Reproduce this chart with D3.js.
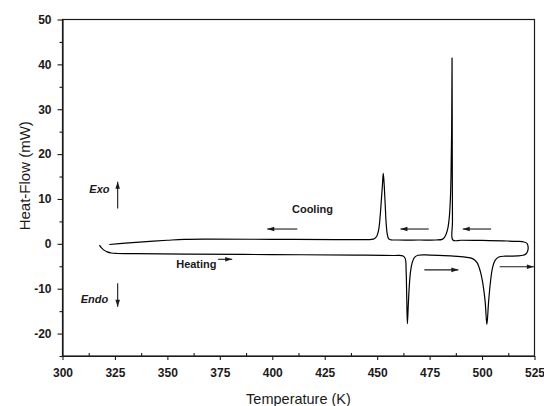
<!DOCTYPE html>
<html>
<head>
<meta charset="utf-8">
<script src="https://cdn.jsdelivr.net/npm/d3@7"></script>
<style>
  body { margin: 0; background: #fff; }
  svg { display: block; font-family: "Liberation Sans", Arial, sans-serif; }
</style>
</head>
<body>
<svg id="chart" width="544" height="406"></svg>
<script>
// tick values
const xTicks = [300, 325, 350, 375, 400, 425, 450, 475, 500, 525];
const xMinor = [312.5, 337.5, 362.5, 387.5, 412.5, 437.5, 462.5, 487.5, 512.5];
const yTicks = [-20, -10, 0, 10, 20, 30, 40, 50];
const yMinor = [-25, -15, -5, 5, 15, 25, 35, 45];

// heating run [T (K), heat flow (mW)], left to right, ending in the turn-round loop
const heating = [
  [317.6, -0.3], [318.6, -0.9], [319.8, -1.4], [321.3, -1.8], [323.3, -2.05],
  [326, -2.15], [335, -2.2], [360, -2.3], [400, -2.4], [440, -2.5],
  [458, -2.6], [462.4, -2.7], [463.4, -3.3], [463.8, -6], [464.1, -12],
  [464.4, -17.8], [464.8, -14], [465.3, -9.5], [465.9, -6.2], [466.7, -4.2],
  [467.8, -3.0], [469.5, -2.55], [475, -2.5], [485, -2.7], [492, -2.95],
  [495.5, -3.3], [497.6, -4.2], [499.2, -6.2], [500.5, -9.2], [501.5, -13],
  [502.3, -18.0], [503.1, -13], [504, -8.5], [505, -5.3], [506.2, -3.7],
  [508, -2.95], [511, -2.75], [517, -2.7], [519.6, -2.55], [521, -2.2],
  [521.8, -1.5], [521.9, -0.5], [521.4, 0.1], [520, 0.4], [517, 0.55]
];

// cooling run, right to left
const cooling = [
  [517, 0.55], [510, 0.65], [500, 0.75], [490, 0.8], [486.1, 0.85],
  [485.9, 5], [485.8, 20], [485.7, 41.4], [485.5, 25], [485.2, 15],
  [484.9, 10], [484.4, 6], [483.7, 3.5], [482.9, 2.2], [482, 1.4],
  [481, 1.0], [478, 0.85], [470, 0.85], [460, 0.85], [456.5, 0.9],
  [455.5, 1.1], [454.8, 2.2], [454.3, 4.5], [453.8, 9], [453.3, 13.5],
  [452.9, 15.7], [452.5, 13], [452, 9.8], [451.4, 6], [450.7, 3.1],
  [449.8, 1.7], [448.6, 1.15], [447.3, 1.0], [430, 0.95], [400, 1.0],
  [370, 1.05], [358, 1.0], [350, 0.8], [340, 0.5], [330, 0.15], [322.3, -0.15]
];

// direction arrows: [T from, T to, heat flow, pointing]
const hArrows = [
  [397.6, 411.9, 3.3, 'left'], [461.1, 474.6, 3.3, 'left'], [490.8, 504.3, 3.3, 'left'],
  [374.2, 380.9, -3.45, 'right'], [472.5, 488.7, -5.8, 'right'], [508.4, 524.7, -5.1, 'right']
];
// exo / endo arrows: [T, heat flow from, heat flow to]
const vArrows = [[326.3, 7.9, 13.85], [326.3, -8.8, -14.0]];
const labels = [
  {text: 'Cooling', T: 409.4, hf: 6.9, italic: false},
  {text: 'Heating', T: 354.2, hf: -5.4, italic: false},
  {text: 'Exo', T: 312.8, hf: 11.3, italic: true},
  {text: 'Endo', T: 308.7, hf: -13.2, italic: true}
];

const svg = d3.select('#chart');
const margin = {top: 19.5, right: 9.5, bottom: 50, left: 62.5};
const width = 544, height = 406;

const x = d3.scaleLinear().domain([300, 525]).range([margin.left, width - margin.right]);
const y = d3.scaleLinear().domain([-25, 50]).range([height - margin.bottom, margin.top]);

const ink = '#1a1a1a';

// frame
svg.append('rect')
  .attr('x', x(300)).attr('y', y(50))
  .attr('width', x(525) - x(300)).attr('height', y(-25) - y(50))
  .attr('fill', 'none').attr('stroke', ink).attr('stroke-width', 1.2);

svg.append('g')
  .attr('transform', `translate(0,${y(-25)})`)
  .call(d3.axisBottom(x).tickValues(xTicks).tickSize(4).tickSizeOuter(0).tickPadding(8)
    .tickFormat(d => String(d)));
svg.append('g')
  .attr('transform', `translate(0,${y(-25)})`)
  .call(d3.axisBottom(x).tickValues(xMinor).tickSize(-3).tickFormat(''))
  .call(g => g.select('.domain').remove());

svg.append('g')
  .attr('transform', `translate(${x(300)},0)`)
  .call(d3.axisLeft(y).tickValues(yTicks).tickSize(5).tickSizeOuter(0).tickPadding(6)
    .tickFormat(d => String(d)));
svg.append('g')
  .attr('transform', `translate(${x(300)},0)`)
  .call(d3.axisLeft(y).tickValues(yMinor).tickSize(3).tickFormat(''))
  .call(g => g.select('.domain').remove());

svg.selectAll('.domain').attr('stroke', ink).attr('stroke-width', 1.2);
svg.selectAll('.tick line').attr('stroke', ink).attr('stroke-width', 1.1);
svg.selectAll('.tick text')
  .attr('font-family', '"Liberation Sans", Arial, sans-serif')
  .attr('font-size', 12).attr('font-weight', 'bold').attr('fill', ink);

// axis titles
svg.append('text')
  .attr('x', (x(300) + x(525)) / 2).attr('y', 404)
  .attr('text-anchor', 'middle').attr('font-size', 14.5).attr('fill', ink)
  .text('Temperature (K)');
svg.append('text')
  .attr('transform', `translate(30,${(y(50) + y(-25)) / 2 - 12}) rotate(-90)`)
  .attr('text-anchor', 'middle').attr('font-size', 15).attr('fill', ink)
  .text('Heat-Flow (mW)');

// curve
const line = d3.line()
  .x(d => x(d[0]))
  .y(d => y(d[1]))
  .curve(d3.curveCatmullRom.alpha(0.5));

svg.append('path')
  .datum(heating.concat(cooling.slice(1)))
  .attr('fill', 'none')
  .attr('stroke', '#000')
  .attr('stroke-width', 1.2)
  .attr('stroke-linejoin', 'round')
  .attr('d', line);

// arrows
const head = (tipX, tipY, dx, dy) => {
  // dx, dy: unit direction of arrow
  const L = 7, W = 2.3;
  const bx = tipX - dx * L, by = tipY - dy * L;
  return `M${tipX},${tipY}L${bx - dy * W},${by + dx * W}L${bx + dy * W},${by - dx * W}Z`;
};

const arrows = svg.append('g');
hArrows.forEach(([t0, t1, hf, dir]) => {
  const x0 = x(t0), x1 = x(t1), yy = y(hf);
  const tip = dir === 'left' ? x0 : x1;
  const dx = dir === 'left' ? -1 : 1;
  arrows.append('line')
    .attr('x1', x0).attr('x2', x1).attr('y1', yy).attr('y2', yy)
    .attr('stroke', ink).attr('stroke-width', 1.1);
  arrows.append('path').attr('d', head(tip, yy, dx, 0)).attr('fill', ink);
});
vArrows.forEach(([t, h0, h1]) => {
  const xx = x(t), y0 = y(h0), y1 = y(h1);
  const dy = y1 < y0 ? -1 : 1;
  arrows.append('line')
    .attr('x1', xx).attr('x2', xx).attr('y1', y0).attr('y2', y1)
    .attr('stroke', ink).attr('stroke-width', 1.1);
  arrows.append('path').attr('d', head(xx, y1, 0, dy)).attr('fill', ink);
});

svg.append('g').selectAll('text')
  .data(labels)
  .join('text')
    .attr('x', d => x(d.T))
    .attr('y', d => y(d.hf))
    .attr('font-size', 11)
    .attr('font-weight', 'bold')
    .attr('font-style', d => d.italic ? 'italic' : 'normal')
    .attr('fill', ink)
    .text(d => d.text);
</script>
</body>
</html>
